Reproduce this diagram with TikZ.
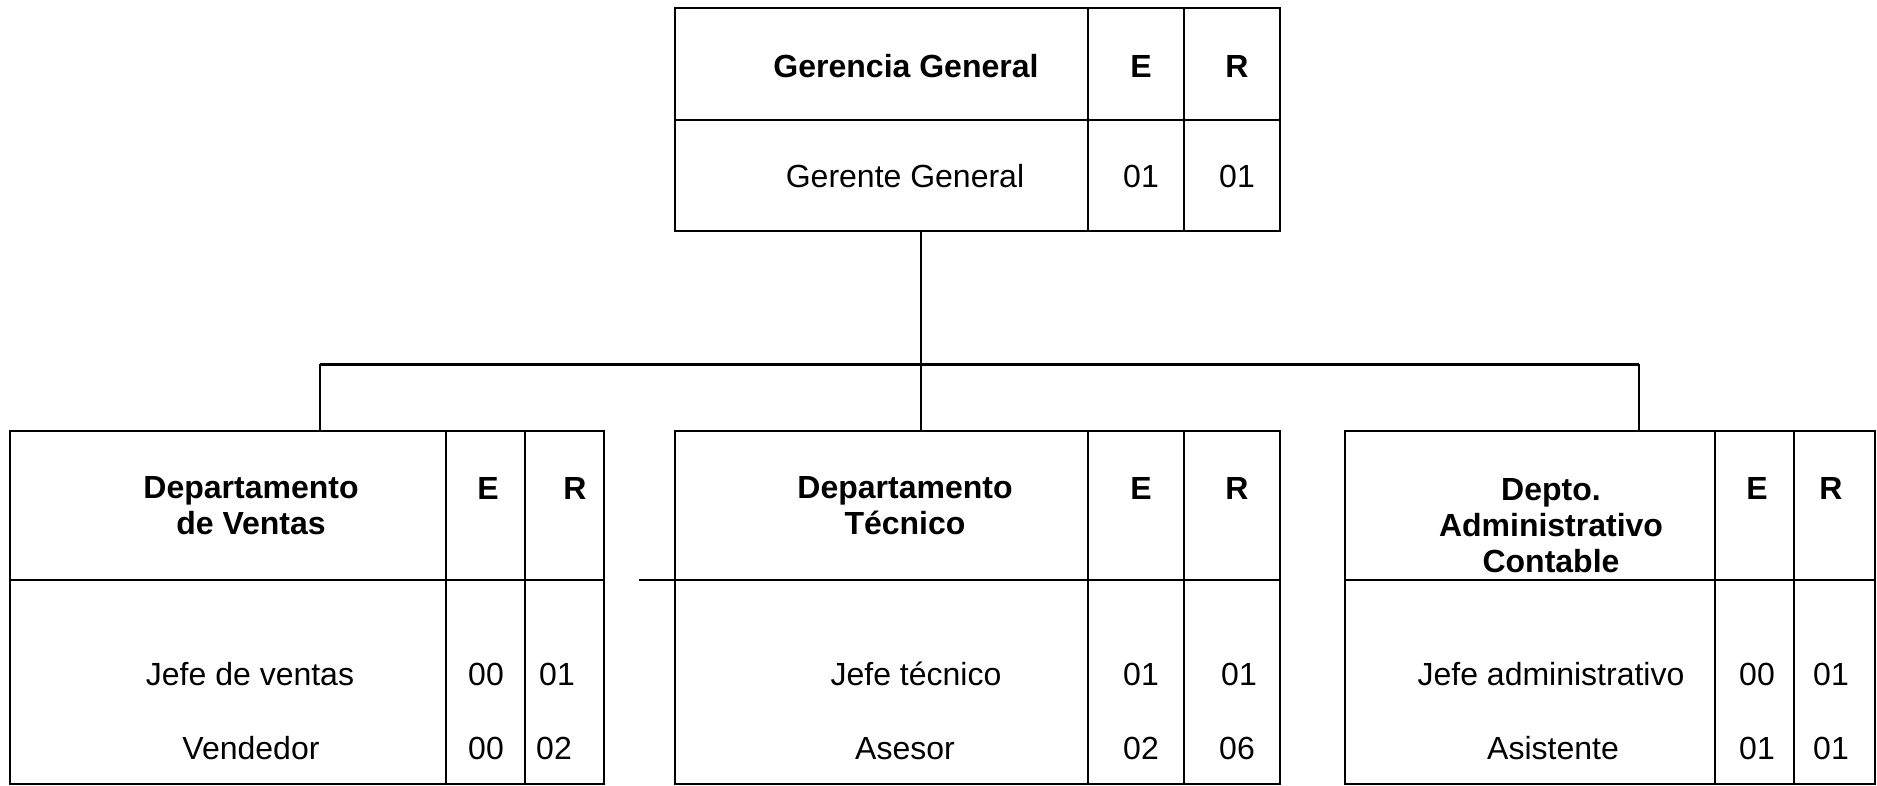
\documentclass[tikz,border=0pt]{standalone}
\usepackage{fontspec}
\setmainfont{Liberation Sans}
\usetikzlibrary{calc}
\begin{document}
\begin{tikzpicture}[x=1pt,y=-1pt,
  unitbox/.style={draw,line width=2.6pt,rectangle,inner sep=0pt,outer sep=0pt,anchor=north west},
  rule/.style={line width=1.8pt},
  link/.style={line width=1.8pt},
  bus/.style={line width=3pt},
  lbl/.style={anchor=base,inner sep=0pt,font=\fontsize{32}{36}\selectfont},
  head/.style={lbl,font=\fontsize{32}{36}\selectfont\bfseries,align=center},
]
\useasboundingbox (0,0) rectangle (1877,785);

% ---- Gerencia General ----
\node[unitbox,minimum width=605pt,minimum height=223pt] (gg) at (675,8) {};
\draw[rule] (675,120) -- (1280,120);
\draw[rule] (1088,8) -- (1088,231);
\draw[rule] (1184,8) -- (1184,231);
\node[head] (gg-t) at (906,77.5) {Gerencia General};
\node[head] (gg-e) at (1141,77.5) {E};
\node[head] (gg-r) at (1237,77.5) {R};
\node[lbl] (gg-1) at (905,187.5) {Gerente General};
\node[lbl] (gg-1e) at (1141,187.5) {01};
\node[lbl] (gg-1r) at (1237,187.5) {01};

% ---- Departamento de Ventas ----
% (multi-line headings are placed by the baseline of their last line)
\node[unitbox,minimum width=594pt,minimum height=353pt] (dv) at (10,431) {};
\draw[rule] (10,580) -- (604,580);
\draw[rule] (446,431) -- (446,784);
\draw[rule] (525,431) -- (525,784);
\node[head] (dv-t) at (251,534.5) {Departamento\\de Ventas};
\node[head] (dv-e) at (488,499.5) {E};
\node[head] (dv-r) at (575,499.5) {R};
\node[lbl] (dv-1) at (250,685.5) {Jefe de ventas};
\node[lbl] (dv-1e) at (486,685.5) {00};
\node[lbl] (dv-1r) at (557,685.5) {01};
\node[lbl] (dv-2) at (251,759.5) {Vendedor};
\node[lbl] (dv-2e) at (486,759.5) {00};
\node[lbl] (dv-2r) at (554,759.5) {02};

% ---- Departamento Tecnico ----
\node[unitbox,minimum width=605pt,minimum height=353pt] (dt) at (675,431) {};
\draw[rule] (639,580) -- (1280,580);
\draw[rule] (1088,431) -- (1088,784);
\draw[rule] (1184,431) -- (1184,784);
\node[head] (dt-t) at (905,534.5) {Departamento\\Técnico};
\node[head] (dt-e) at (1141,499.5) {E};
\node[head] (dt-r) at (1237,499.5) {R};
\node[lbl] (dt-1) at (916,685.5) {Jefe técnico};
\node[lbl] (dt-1e) at (1141,685.5) {01};
\node[lbl] (dt-1r) at (1239,685.5) {01};
\node[lbl] (dt-2) at (905,759.5) {Asesor};
\node[lbl] (dt-2e) at (1141,759.5) {02};
\node[lbl] (dt-2r) at (1237,759.5) {06};

% ---- Depto. Administrativo Contable ----
\node[unitbox,minimum width=530pt,minimum height=353pt] (da) at (1345,431) {};
\draw[rule] (1345,580) -- (1875,580);
\draw[rule] (1715,431) -- (1715,784);
\draw[rule] (1794,431) -- (1794,784);
\node[head] (da-t) at (1551,572.5) {Depto.\\Administrativo\\Contable};
\node[head] (da-e) at (1757,499.5) {E};
\node[head] (da-r) at (1831,499.5) {R};
\node[lbl] (da-1) at (1551,685.5) {Jefe administrativo};
\node[lbl] (da-1e) at (1757,685.5) {00};
\node[lbl] (da-1r) at (1831,685.5) {01};
\node[lbl] (da-2) at (1553,759.5) {Asistente};
\node[lbl] (da-2e) at (1757,759.5) {01};
\node[lbl] (da-2r) at (1831,759.5) {01};

% ---- connectors ----
\coordinate (gg-out) at ($(gg.south west)+(246,0)$);
\coordinate (dv-in) at ($(dv.north west)+(310,0)$);
\coordinate (dt-in) at ($(dt.north west)+(246,0)$);
\coordinate (da-in) at ($(da.north west)+(294,0)$);
\coordinate (bus-l) at (dv-in |- 0,364);
\coordinate (bus-m) at (gg-out |- 0,364);
\coordinate (bus-r) at (da-in |- 0,364);
\draw[link] (gg-out) -- (bus-m);
\draw[bus] (bus-l) -- (bus-r);
\draw[link] (bus-l) -- (dv-in);
\draw[link] (bus-m) -- (dt-in);
\draw[link] (bus-r) -- (da-in);
\end{tikzpicture}
\end{document}
